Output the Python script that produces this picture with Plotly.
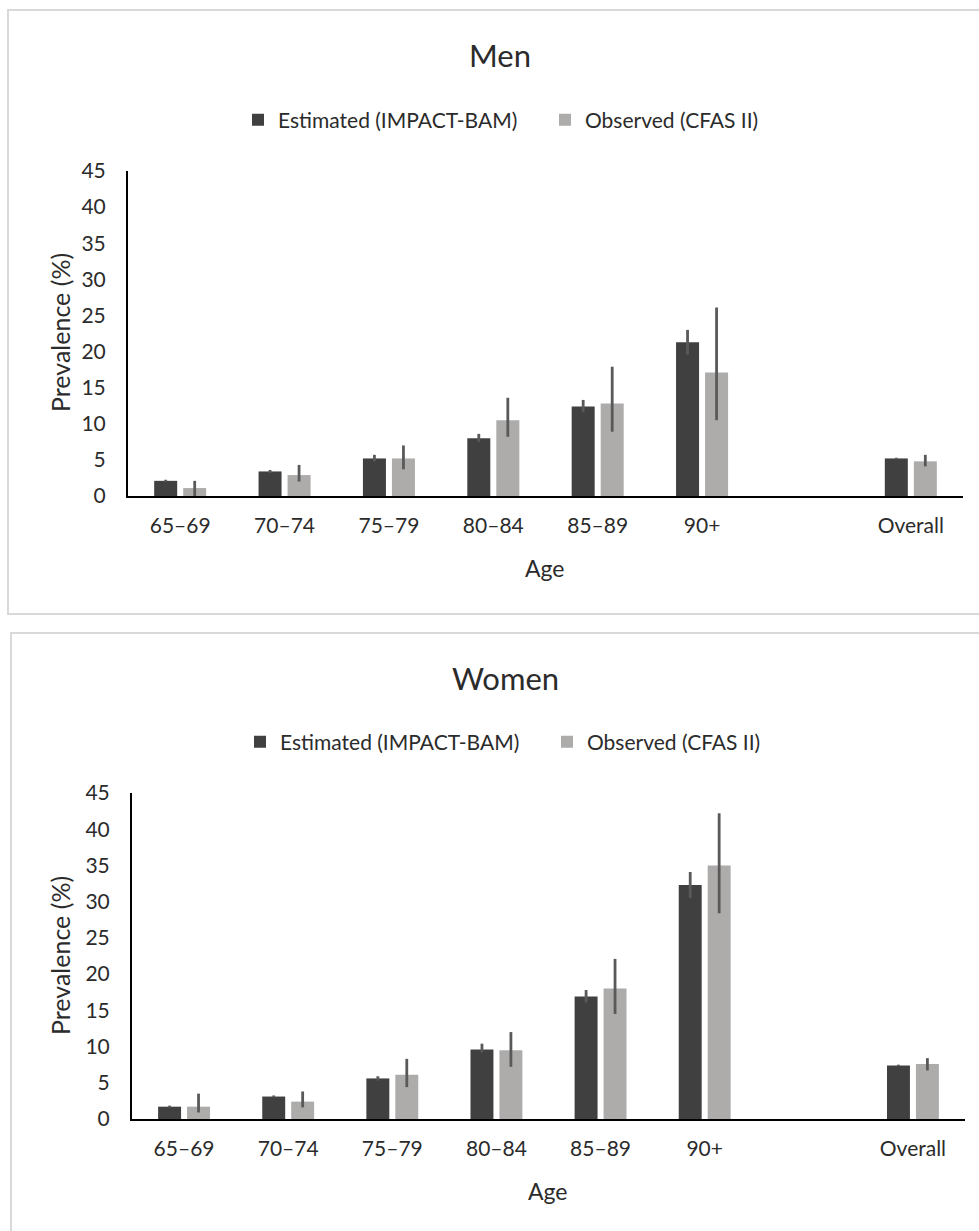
import plotly.graph_objects as go

# ---------------- data ----------------
age_groups = ["65–69", "70–74", "75–79", "80–84", "85–89", "90+", "Overall"]
axis_categories = ["65–69", "70–74", "75–79", "80–84", "85–89", "90+", " ", "Overall"]

men_est = [2.1, 3.4, 5.2, 8.0, 12.4, 21.3, 5.2]
men_est_lo = [1.95, 3.2, 4.8, 7.5, 11.6, 19.6, 5.05]
men_est_hi = [2.25, 3.6, 5.7, 8.6, 13.3, 23.0, 5.3]
men_obs = [1.1, 2.9, 5.2, 10.5, 12.8, 17.1, 4.8]
men_obs_lo = [0.0, 2.0, 3.7, 8.2, 8.9, 10.5, 4.1]
men_obs_hi = [2.1, 4.3, 7.0, 13.6, 17.9, 26.1, 5.7]

women_est = [1.7, 3.1, 5.6, 9.6, 16.9, 32.3, 7.4]
women_est_lo = [1.55, 3.0, 5.3, 9.2, 16.1, 30.5, 7.3]
women_est_hi = [1.85, 3.25, 5.9, 10.4, 17.8, 34.1, 7.5]
women_obs = [1.7, 2.4, 6.1, 9.5, 18.0, 35.0, 7.6]
women_obs_lo = [0.9, 1.6, 4.4, 7.2, 14.5, 28.4, 6.7]
women_obs_hi = [3.5, 3.8, 8.3, 12.0, 22.1, 42.2, 8.4]

y_ticks = [0, 5, 10, 15, 20, 25, 30, 35, 40, 45]

series_names = ["Estimated (IMPACT-BAM)", "Observed (CFAS II)"]

# ---------------- style ----------------
W, H = 979, 1231
FONT = "Lato"
TXT = "#2b2b2b"
C_EST = "#404040"
C_OBS = "#AEABAB"
C_ERR = "#595959"


def px(x):
    return x / W


def py(y):
    return 1 - y / H


fig = go.Figure()


def add_pair(est, lo_e, hi_e, obs, lo_o, hi_o, xa, ya, legend):
    for name, vals, lo, hi, col in [
        (series_names[0], est, lo_e, hi_e, C_EST),
        (series_names[1], obs, lo_o, hi_o, C_OBS),
    ]:
        plus = [h - v for h, v in zip(hi, vals)]
        minus = [v - l for v, l in zip(vals, lo)]
        fig.add_trace(go.Bar(
            x=age_groups, y=vals, name=name,
            marker=dict(color=col, line=dict(width=0)),
            error_y=dict(type="data", array=plus, arrayminus=minus,
                         color=C_ERR, thickness=2.8, width=0, symmetric=False),
            xaxis=xa, yaxis=ya, legend=legend, showlegend=True,
        ))


add_pair(men_est, men_est_lo, men_est_hi, men_obs, men_obs_lo, men_obs_hi,
         "x", "y", "legend")
add_pair(women_est, women_est_lo, women_est_hi, women_obs, women_obs_lo, women_obs_hi,
         "x2", "y2", "legend2")

axis_common_x = dict(
    type="category", categoryorder="array", categoryarray=axis_categories,
    range=[-0.5, len(axis_categories) - 0.5],
    showline=True, linecolor="black", linewidth=2, showgrid=False,
    zeroline=False, ticks="", ticklabelstandoff=10,
    tickfont=dict(family=FONT, size=21, color=TXT), fixedrange=True,
)
axis_common_y = dict(
    range=[0, 45], tickvals=y_ticks, showline=True, linecolor="black",
    linewidth=2, showgrid=False, zeroline=False, ticks="",
    ticklabelstandoff=16,
    tickfont=dict(family=FONT, size=21, color=TXT), fixedrange=True,
)

legend_common = dict(orientation="h", xanchor="left", yanchor="middle",
                     font=dict(family=FONT, size=21, color=TXT),
                     itemclick=False, itemdoubleclick=False,
                     bgcolor="rgba(0,0,0,0)", entrywidth=262,
                     entrywidthmode="pixels")

fig.update_layout(
    width=W, height=H,
    margin=dict(l=0, r=0, t=0, b=0, autoexpand=False),
    paper_bgcolor="white", plot_bgcolor="white",
    barmode="group", bargap=0.444, bargroupgap=0.207,
    font=dict(family=FONT, color=TXT),
    xaxis=dict(domain=[px(128), px(963)], anchor="y", **axis_common_x),
    yaxis=dict(domain=[py(496), py(171)], anchor="x", **axis_common_y),
    xaxis2=dict(domain=[px(132), px(965)], anchor="y2", **axis_common_x),
    yaxis2=dict(domain=[py(1119), py(793)], anchor="x2", **axis_common_y),
    legend=dict(x=px(238), y=py(120), **legend_common),
    legend2=dict(x=px(240), y=py(742), **legend_common),
    showlegend=True,
)

# panel borders
fig.add_shape(type="rect", xref="paper", yref="paper",
              x0=px(8), x1=px(995), y0=py(614), y1=py(10),
              line=dict(color="#d9d9d9", width=2), fillcolor="rgba(0,0,0,0)",
              layer="below")
fig.add_shape(type="rect", xref="paper", yref="paper",
              x0=px(11), x1=px(995), y0=py(1245), y1=py(633),
              line=dict(color="#d9d9d9", width=2), fillcolor="rgba(0,0,0,0)",
              layer="below")

annotations = [
    dict(text="Men", x=px(500), y=py(55), size=31),
    dict(text="Women", x=px(505), y=py(678), size=31),
    dict(text="Age", x=px(545), y=py(568), size=23),
    dict(text="Age", x=px(548), y=py(1191), size=23),
]
for a in annotations:
    fig.add_annotation(text=a["text"], x=a["x"], y=a["y"], xref="paper",
                       yref="paper", showarrow=False, xanchor="center",
                       yanchor="middle",
                       font=dict(family=FONT, size=a["size"], color=TXT))

for yc in [333, 956]:
    fig.add_annotation(text="Prevalence (%)", x=px(60), y=py(yc), xref="paper",
                       yref="paper", showarrow=False, textangle=-90,
                       xanchor="center", yanchor="middle",
                       font=dict(family=FONT, size=25, color=TXT))

fig.write_html("out.html")
